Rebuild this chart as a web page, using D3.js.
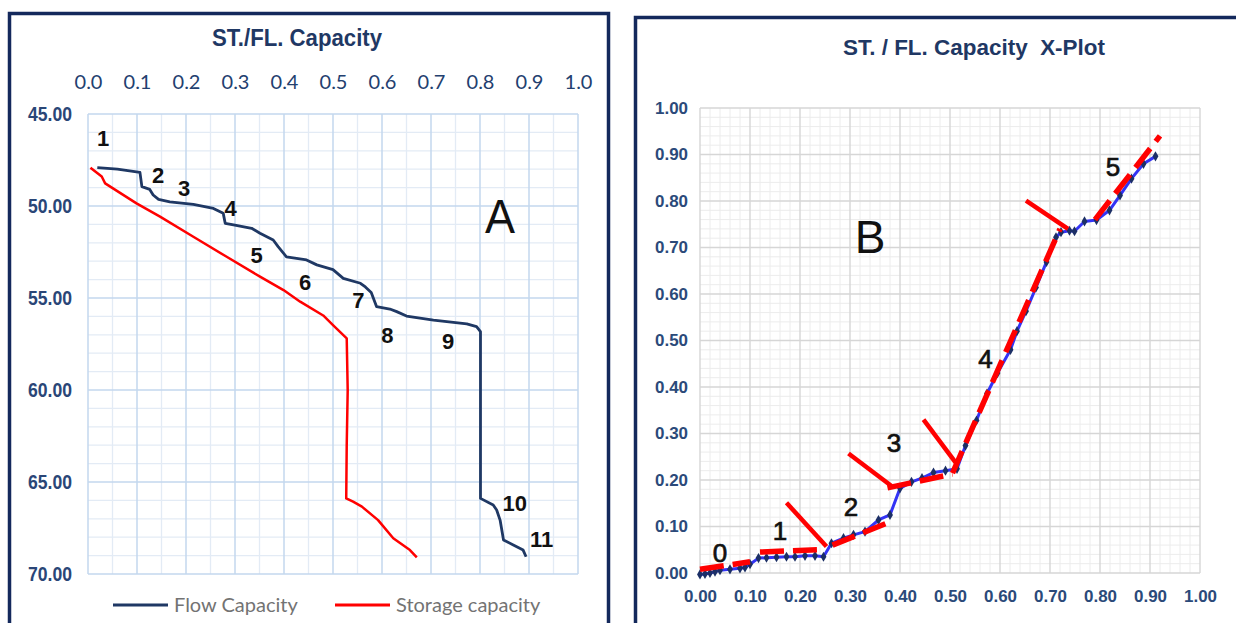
<!DOCTYPE html>
<html>
<head>
<meta charset="utf-8">
<script src="https://cdn.jsdelivr.net/npm/d3@7"></script>
<style>
  html, body { margin: 0; padding: 0; background: #fff; }
  svg { display: block; }
</style>
</head>
<body>
<svg id="chart" width="1236" height="623"></svg>
<script>
// ---------- Panel A: storage / flow capacity against depth ----------
const capacityTicks = [0, 0.1, 0.2, 0.3, 0.4, 0.5, 0.6, 0.7, 0.8, 0.9, 1.0];
const depthTicks = [45, 50, 55, 60, 65, 70];

const flowCapacity = [0.019, 0.06, 0.106, 0.11, 0.126, 0.133, 0.144, 0.167, 0.215, 0.256, 0.276, 0.28, 0.297, 0.334, 0.351, 0.378, 0.388, 0.405, 0.446, 0.467, 0.5, 0.521, 0.556, 0.566, 0.578, 0.589, 0.616, 0.63, 0.65, 0.705, 0.773, 0.793, 0.801, 0.801, 0.827, 0.834, 0.841, 0.848, 0.868, 0.888, 0.894];
const flowDepth = [47.92, 48.0, 48.17, 48.95, 49.1, 49.4, 49.64, 49.77, 49.91, 50.13, 50.4, 50.94, 51.03, 51.21, 51.48, 51.85, 52.21, 52.76, 52.93, 53.2, 53.46, 53.93, 54.2, 54.4, 54.7, 55.47, 55.6, 55.74, 55.98, 56.2, 56.41, 56.56, 56.83, 65.89, 66.25, 66.52, 67.07, 68.15, 68.42, 68.7, 69.06];

const storageCapacity = [0.005, 0.028, 0.035, 0.099, 0.147, 0.215, 0.283, 0.351, 0.399, 0.433, 0.48, 0.5, 0.528, 0.53, 0.528, 0.527, 0.541, 0.559, 0.592, 0.623, 0.657, 0.671];
const storageDepth = [47.92, 48.4, 48.77, 49.86, 50.58, 51.67, 52.76, 53.84, 54.57, 55.2, 55.95, 56.47, 57.19, 60.0, 63.0, 65.89, 66.07, 66.34, 67.07, 68.06, 68.7, 69.1];

const unitLabelsA = ["1", "2", "3", "4", "5", "6", "7", "8", "9", "10", "11"];
const unitLabelCapA = [0.031, 0.143, 0.196, 0.291, 0.344, 0.443, 0.552, 0.611, 0.735, 0.871, 0.926];
const unitLabelDepthA = [46.3, 48.32, 49.04, 50.13, 52.66, 54.11, 55.11, 57.01, 57.32, 66.16, 68.1];

const legendNames = ["Flow Capacity", "Storage capacity"];

// ---------- Panel B: cross-plot of the two capacities ----------
const xplotTicks = [0, 0.1, 0.2, 0.3, 0.4, 0.5, 0.6, 0.7, 0.8, 0.9, 1.0];
const xplotX = [0.0, 0.01, 0.02, 0.03, 0.04, 0.06, 0.08, 0.09, 0.1, 0.117, 0.133, 0.153, 0.173, 0.19, 0.21, 0.23, 0.247, 0.263, 0.287, 0.307, 0.33, 0.357, 0.38, 0.4, 0.423, 0.444, 0.467, 0.491, 0.514, 0.531, 0.553, 0.574, 0.595, 0.621, 0.634, 0.652, 0.672, 0.693, 0.712, 0.722, 0.739, 0.749, 0.769, 0.793, 0.819, 0.84, 0.863, 0.887, 0.911];
const xplotY = [-0.003, -0.002, 0.0, 0.003, 0.006, 0.008, 0.01, 0.012, 0.019, 0.032, 0.033, 0.034, 0.035, 0.035, 0.037, 0.037, 0.035, 0.064, 0.075, 0.082, 0.089, 0.114, 0.125, 0.182, 0.196, 0.204, 0.216, 0.22, 0.224, 0.274, 0.328, 0.386, 0.43, 0.48, 0.52, 0.563, 0.614, 0.669, 0.722, 0.733, 0.736, 0.735, 0.756, 0.759, 0.78, 0.812, 0.848, 0.88, 0.896];

// straight-line fits for each flow unit (start x, start y, end x, end y)
const fitStartX = [0.0, 0.12, 0.265, 0.375, 0.505, 0.79];
const fitStartY = [0.008, 0.045, 0.06, 0.183, 0.215, 0.76];
const fitEndX = [0.1, 0.235, 0.385, 0.505, 0.72, 0.92];
const fitEndY = [0.024, 0.05, 0.112, 0.213, 0.74, 0.94];

// unit boundary markers
const breakStartX = [0.173, 0.297, 0.447, 0.652];
const breakStartY = [0.151, 0.257, 0.33, 0.801];
const breakEndX = [0.253, 0.383, 0.511, 0.736];
const breakEndY = [0.057, 0.187, 0.238, 0.74];

const unitLabelsB = ["0", "1", "2", "3", "4", "5"];
const unitLabelXB = [0.04, 0.16, 0.302, 0.388, 0.571, 0.826];
const unitLabelYB = [0.043, 0.092, 0.142, 0.28, 0.462, 0.873];

// ---------- drawing ----------
const NAVY = "#1f3864";
const sansFont = "'Liberation Sans', Arial, sans-serif";
const lightFont = "Lato, 'Open Sans', sans-serif";

const svg = d3.select("#chart");
svg.append("rect").attr("width", 1236).attr("height", 623).attr("fill", "#fff");

// ===== Panel A =====
const xA = d3.scaleLinear().domain([0, 1]).range([88, 578]);
const yA = d3.scaleLinear().domain([45, 70]).range([114, 574]);
const gA = svg.append("g");

// grid: minor then major
gA.append("g").selectAll("line").data(d3.range(1, 20, 2).map(i => i * 0.05)).join("line")
  .attr("x1", d => xA(d)).attr("x2", d => xA(d)).attr("y1", yA(45)).attr("y2", yA(70))
  .attr("stroke", "#e3ebf5").attr("stroke-width", 1.3);
gA.append("g").selectAll("line").data(d3.range(45, 71).filter(d => d % 5 !== 0)).join("line")
  .attr("x1", xA(0)).attr("x2", xA(1)).attr("y1", d => yA(d)).attr("y2", d => yA(d))
  .attr("stroke", "#e3ebf5").attr("stroke-width", 1.3);
gA.append("g").selectAll("line").data(capacityTicks).join("line")
  .attr("x1", d => xA(d)).attr("x2", d => xA(d)).attr("y1", yA(45)).attr("y2", yA(70))
  .attr("stroke", "#c3d7ee").attr("stroke-width", 1.5);
gA.append("g").selectAll("line").data(depthTicks).join("line")
  .attr("x1", xA(0)).attr("x2", xA(1)).attr("y1", d => yA(d)).attr("y2", d => yA(d))
  .attr("stroke", "#c3d7ee").attr("stroke-width", 1.5);

// axes
const axTopA = gA.append("g").attr("transform", `translate(0,${yA(45)})`)
  .call(d3.axisTop(xA).tickValues(capacityTicks).tickFormat(d3.format(".1f")).tickSize(0).tickPadding(25));
axTopA.select(".domain").remove();
axTopA.selectAll("text").attr("font-family", lightFont).attr("font-size", 20).attr("fill", "#23406f");

const axLeftA = gA.append("g").attr("transform", `translate(${xA(0)},0)`)
  .call(d3.axisLeft(yA).tickValues(depthTicks).tickFormat(d3.format(".2f")).tickSize(0).tickPadding(16));
axLeftA.select(".domain").remove();
axLeftA.selectAll("text").attr("font-family", sansFont).attr("font-weight", "bold").attr("font-size", 20.5)
  .attr("fill", "#2a4677").attr("textLength", 44).attr("lengthAdjust", "spacingAndGlyphs");

// title
gA.append("text").attr("x", 297).attr("y", 46).attr("text-anchor", "middle")
  .attr("font-family", sansFont).attr("font-weight", "bold").attr("font-size", 23).attr("fill", NAVY)
  .attr("textLength", 170).attr("lengthAdjust", "spacingAndGlyphs")
  .text("ST./FL. Capacity");

// curves
gA.append("path").datum(d3.zip(storageCapacity, storageDepth)).attr("d", d3.line().x(d => xA(d[0])).y(d => yA(d[1])))
  .attr("fill", "none").attr("stroke", "#ff0000").attr("stroke-width", 2.5).attr("stroke-linejoin", "round");
gA.append("path").datum(d3.zip(flowCapacity, flowDepth)).attr("d", d3.line().x(d => xA(d[0])).y(d => yA(d[1])))
  .attr("fill", "none").attr("stroke", NAVY).attr("stroke-width", 2.8).attr("stroke-linejoin", "round");

// unit numbers
gA.append("g").selectAll("text").data(unitLabelsA).join("text")
  .attr("x", (d, i) => xA(unitLabelCapA[i])).attr("y", (d, i) => yA(unitLabelDepthA[i]))
  .attr("dy", "0.36em").attr("text-anchor", "middle")
  .attr("font-family", sansFont).attr("font-weight", "bold").attr("font-size", 22).attr("fill", "#111")
  .text(d => d);

gA.append("text").attr("x", xA(0.841)).attr("y", yA(50.54)).attr("dy", "0.36em").attr("text-anchor", "middle")
  .attr("font-family", sansFont).attr("font-size", 48).attr("fill", "#111")
  .attr("textLength", 30).attr("lengthAdjust", "spacingAndGlyphs")
  .text("A");

// legend
const legA = gA.append("g");
const legColors = [NAVY, "#ff0000"];
const legX = [113, 335];
legendNames.forEach((name, i) => {
  legA.append("line").attr("x1", legX[i]).attr("x2", legX[i] + 55).attr("y1", 605).attr("y2", 605)
    .attr("stroke", legColors[i]).attr("stroke-width", 2.8);
  legA.append("text").attr("x", legX[i] + 61).attr("y", 605).attr("dy", "0.35em")
    .attr("font-family", lightFont).attr("font-size", 20).attr("fill", "#737373")
    .text(name);
});

// frame
svg.append("rect").attr("x", 9.5).attr("y", 13.5).attr("width", 599).attr("height", 640)
  .attr("fill", "none").attr("stroke", "#14295c").attr("stroke-width", 3.5);

// ===== Panel B =====
const xB = d3.scaleLinear().domain([0, 1]).range([700, 1200]);
const yB = d3.scaleLinear().domain([0, 1]).range([573, 108]);
const gB = svg.append("g");

const minorB = d3.range(1, 50).filter(i => i % 5 !== 0).map(i => i * 0.02);
gB.append("g").selectAll("line").data(minorB).join("line")
  .attr("x1", d => xB(d)).attr("x2", d => xB(d)).attr("y1", yB(0)).attr("y2", yB(1))
  .attr("stroke", "#ececec").attr("stroke-width", 1);
gB.append("g").selectAll("line").data(minorB).join("line")
  .attr("x1", xB(0)).attr("x2", xB(1)).attr("y1", d => yB(d)).attr("y2", d => yB(d))
  .attr("stroke", "#ececec").attr("stroke-width", 1);
gB.append("g").selectAll("line").data(xplotTicks).join("line")
  .attr("x1", d => xB(d)).attr("x2", d => xB(d)).attr("y1", yB(0)).attr("y2", yB(1))
  .attr("stroke", "#d6d6d6").attr("stroke-width", 1.4);
gB.append("g").selectAll("line").data(xplotTicks).join("line")
  .attr("x1", xB(0)).attr("x2", xB(1)).attr("y1", d => yB(d)).attr("y2", d => yB(d))
  .attr("stroke", "#d6d6d6").attr("stroke-width", 1.4);

const axBotB = gB.append("g").attr("transform", `translate(0,${yB(0)})`)
  .call(d3.axisBottom(xB).tickValues(xplotTicks).tickFormat(d3.format(".2f")).tickSize(0).tickPadding(17));
axBotB.select(".domain").remove();
axBotB.selectAll("text").attr("font-family", sansFont).attr("font-weight", "bold").attr("font-size", 17).attr("fill", "#2b4a7a")
  .attr("textLength", 33).attr("lengthAdjust", "spacingAndGlyphs");

const axLeftB = gB.append("g").attr("transform", `translate(${xB(0)},0)`)
  .call(d3.axisLeft(yB).tickValues(xplotTicks).tickFormat(d3.format(".2f")).tickSize(0).tickPadding(12));
axLeftB.select(".domain").remove();
axLeftB.selectAll("text").attr("font-family", sansFont).attr("font-weight", "bold").attr("font-size", 17).attr("fill", "#2b4a7a")
  .attr("textLength", 33).attr("lengthAdjust", "spacingAndGlyphs");

gB.append("text").attr("x", 974).attr("y", 55).attr("text-anchor", "middle")
  .attr("font-family", sansFont).attr("font-weight", "bold").attr("font-size", 22).attr("fill", NAVY)
  .attr("textLength", 262).attr("lengthAdjust", "spacingAndGlyphs")
  .text("ST. / FL. Capacity\u00a0\u00a0X-Plot");

// measured cross-plot
const ptsB = d3.zip(xplotX, xplotY);
gB.append("path").datum(ptsB).attr("d", d3.line().x(d => xB(d[0])).y(d => yB(d[1])))
  .attr("fill", "none").attr("stroke", "#3333f5").attr("stroke-width", 3).attr("stroke-linejoin", "round");
gB.append("g").selectAll("path").data(ptsB).join("path")
  .attr("transform", d => `translate(${xB(d[0])},${yB(d[1])})`)
  .attr("d", d3.symbol(d3.symbolDiamond, 30))
  .attr("fill", "#1c2f66");

// fitted unit lines
gB.append("g").selectAll("line").data(fitStartX).join("line")
  .attr("x1", (d, i) => xB(fitStartX[i])).attr("y1", (d, i) => yB(fitStartY[i]))
  .attr("x2", (d, i) => xB(fitEndX[i])).attr("y2", (d, i) => yB(fitEndY[i]))
  .attr("stroke", "#ff0000").attr("stroke-width", 5.5).attr("stroke-dasharray", "24,9");

// unit boundaries
gB.append("g").selectAll("line").data(breakStartX).join("line")
  .attr("x1", (d, i) => xB(breakStartX[i])).attr("y1", (d, i) => yB(breakStartY[i]))
  .attr("x2", (d, i) => xB(breakEndX[i])).attr("y2", (d, i) => yB(breakEndY[i]))
  .attr("stroke", "#ff0000").attr("stroke-width", 4.5);

gB.append("g").selectAll("text").data(unitLabelsB).join("text")
  .attr("x", (d, i) => xB(unitLabelXB[i])).attr("y", (d, i) => yB(unitLabelYB[i]))
  .attr("dy", "0.36em").attr("text-anchor", "middle")
  .attr("font-family", sansFont).attr("font-size", 26).attr("fill", "#111")
  .attr("stroke", "#111").attr("stroke-width", 0.7)
  .text(d => d);

gB.append("text").attr("x", xB(0.34)).attr("y", yB(0.724)).attr("dy", "0.36em").attr("text-anchor", "middle")
  .attr("font-family", sansFont).attr("font-size", 46).attr("fill", "#111")
  .text("B");

svg.append("rect").attr("x", 635.5).attr("y", 17.5).attr("width", 700).attr("height", 640)
  .attr("fill", "none").attr("stroke", "#14295c").attr("stroke-width", 3.5);
</script>
</body>
</html>
